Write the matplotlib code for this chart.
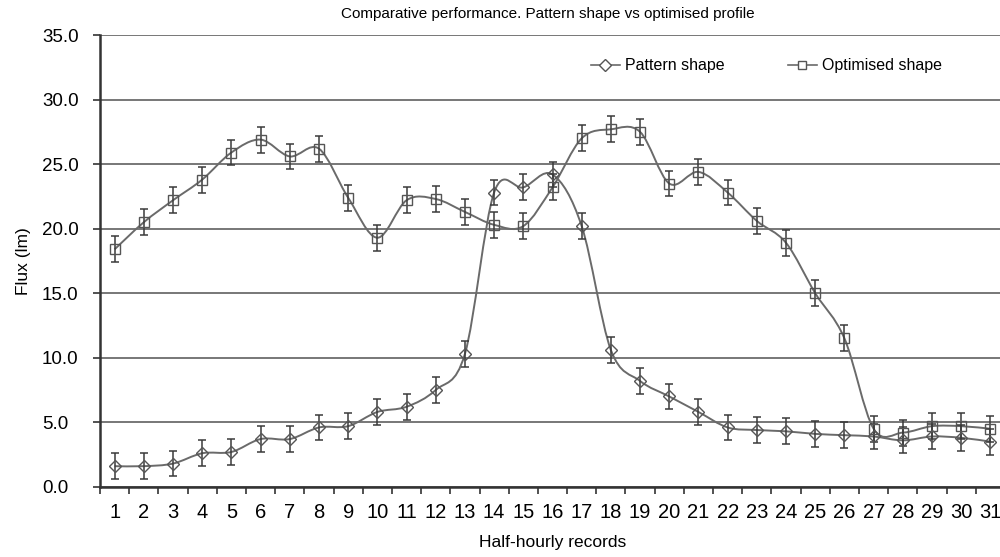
import numpy as np
import matplotlib.pyplot as plt
from matplotlib.path import Path
from matplotlib.patches import PathPatch

plt.rcParams['font.family'] = ['Liberation Sans', 'DejaVu Sans']

records = list(range(1, 32))
pattern = [1.6, 1.6, 1.8, 2.6, 2.7, 3.7, 3.7, 4.6, 4.7, 5.8, 6.2, 7.5, 10.3,
           22.8, 23.2, 24.2, 20.2, 10.6, 8.2, 7.0, 5.8, 4.6, 4.4, 4.3, 4.1,
           4.0, 3.9, 3.6, 3.9, 3.8, 3.5]
optimised = [18.4, 20.5, 22.2, 23.8, 25.9, 26.9, 25.6, 26.2, 22.4, 19.3, 22.2,
             22.3, 21.3, 20.3, 20.2, 23.2, 27.0, 27.7, 27.5, 23.5, 24.4, 22.8,
             20.6, 18.9, 15.0, 11.5, 4.5, 4.2, 4.7, 4.7, 4.5]
err_pattern = [1.0] * 31
err_optimised = [1.0] * 31


def smooth_path(x, y):
    # Excel-like smoothed line: Catmull-Rom segments as cubic Bezier curves
    pts = np.column_stack([x, y]).astype(float)
    verts = [pts[0]]
    codes = [Path.MOVETO]
    n = len(pts)
    for i in range(n - 1):
        p0 = pts[max(i - 1, 0)]
        p1 = pts[i]
        p2 = pts[i + 1]
        p3 = pts[min(i + 2, n - 1)]
        c1 = p1 + (p2 - p0) / 6.0
        c2 = p2 - (p3 - p1) / 6.0
        verts += [c1, c2, p2]
        codes += [Path.CURVE4] * 3
    return Path(verts, codes)


fig = plt.figure(figsize=(10, 5.57), dpi=100)
ax = fig.add_axes([0.1, 0.126, 0.905, 0.811])

line_col = '#6a6a6a'
for vals, errs, mk, lab in [(pattern, err_pattern, 'D', 'Pattern shape'),
                            (optimised, err_optimised, 's', 'Optimised shape')]:
    ax.add_patch(PathPatch(smooth_path(records, vals), facecolor='none',
                           edgecolor=line_col, lw=1.4, zorder=3))
    ax.errorbar(records, vals, yerr=errs, fmt='none', ecolor='#3a3a3a',
                elinewidth=1.1, capsize=3, capthick=1.1, zorder=4)
    ax.plot(records, vals, linestyle='none', marker=mk,
            markersize=7 if mk == 's' else 6.5, markerfacecolor='none',
            markeredgecolor='#555555', markeredgewidth=1.0, zorder=5)
    ax.plot([], [], color=line_col, lw=1.2, marker=mk, markersize=6,
            markerfacecolor='white', markeredgecolor='#555555', label=lab)

ax.set_xlim(0.5, 31.35)
ax.set_ylim(0, 35)
ax.set_yticks(np.arange(0, 35.1, 5))
ax.set_yticklabels([f'{v:.1f}' for v in np.arange(0, 35.1, 5)], fontsize=13.5)
for t in ax.get_yticklabels():
    t.set_horizontalalignment('left')
ax.yaxis.grid(True, color='#777777', lw=1.4)
ax.set_axisbelow(True)

ax.set_xticks(np.arange(0.5, 32, 1))
ax.set_xticklabels([])
ax.set_xticks(records, minor=True)
ax.set_xticklabels([str(r) for r in records], minor=True, fontsize=14.5)
ax.tick_params(axis='x', which='major', direction='out', length=5, width=1.2, color='#333333')
ax.tick_params(axis='x', which='minor', length=0, pad=12)
ax.tick_params(axis='y', direction='out', length=5, width=1.2, color='#333333', pad=36.7)

for s in ['top', 'right']:
    ax.spines[s].set_visible(False)
ax.spines['left'].set_color('#333333')
ax.spines['left'].set_linewidth(1.8)
ax.spines['bottom'].set_color('#333333')
ax.spines['bottom'].set_linewidth(1.8)

ax.set_xlabel('Half-hourly records', fontsize=12.5, labelpad=9)
ax.set_ylabel('Flux (lm)', fontsize=12.5, labelpad=8)
fig.text(0.548, 0.975, 'Comparative performance. Pattern shape vs optimised profile',
         ha='center', va='center', fontsize=11)

fig.legend(loc='center left', bbox_to_anchor=(0.591, 0.882), ncol=2, frameon=False,
           fontsize=11.5, columnspacing=4, handlelength=1.8, handletextpad=0.3,
           borderpad=0, borderaxespad=0)

fig.savefig('out.png', dpi=100)
